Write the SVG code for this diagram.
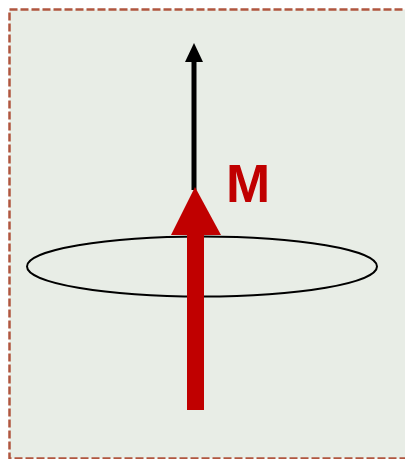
<svg xmlns="http://www.w3.org/2000/svg" width="405" height="459" viewBox="0 0 405 459">
<style>
.frame{fill:#e8ede6;stroke:#b0563f;stroke-width:2.5;stroke-dasharray:8 3}
.black{fill:#000}
.red{fill:#c00000}
.label{font-family:"Liberation Sans",Arial,sans-serif;font-weight:bold;font-size:53px;fill:#c00000}
</style>
<rect class="frame" x="9.5" y="9.5" width="420" height="449"/>
<g id="connectors">
<g id="field-arrow">
<rect class="black" x="191.5" y="60" width="5" height="130"/>
<polygon class="black" points="194,43 203,62 185,62"/>
</g>
</g>
<g id="orbit">
<ellipse cx="202" cy="266.5" rx="175" ry="30" fill="none" stroke="#000" stroke-width="2"/>
</g>
<g id="magnetization">
<polygon class="red" points="195,187 221,235 171,235"/>
<rect class="red" x="187" y="233" width="17" height="177"/>
</g>
<g id="label-M">
<text class="label" x="226" y="202">M</text>
</g>
</svg>
